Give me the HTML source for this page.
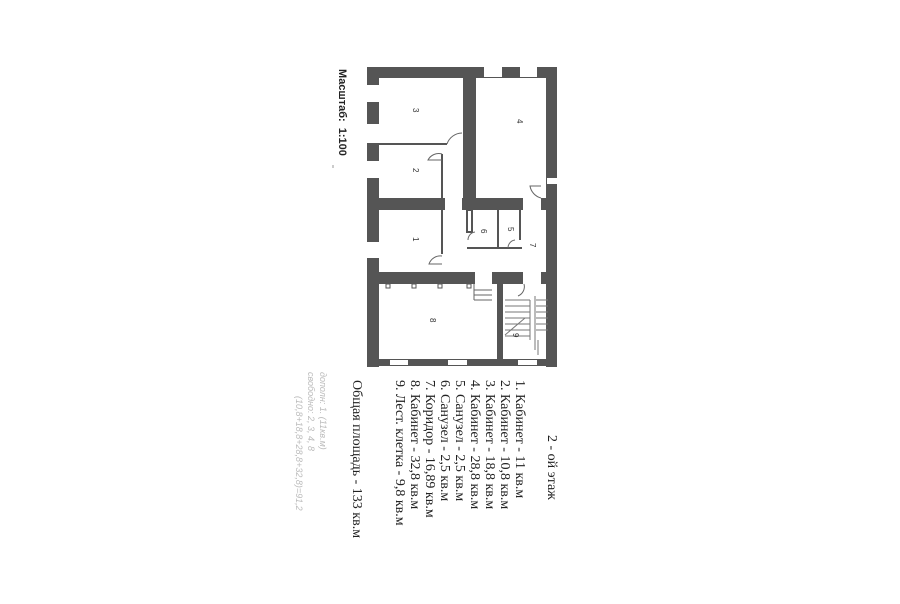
<!DOCTYPE html>
<html><head><meta charset="utf-8"><style>
html,body{margin:0;padding:0;background:#fff;width:900px;height:604px;overflow:hidden}
svg{display:block}
</style></head><body>
<svg width="900" height="604" viewBox="0 0 900 604" xmlns="http://www.w3.org/2000/svg">
<rect width="900" height="604" fill="#fff"/>
<g fill="#555">
<rect x="367" y="67" width="190" height="11"/>
<rect x="367" y="67" width="12" height="300"/>
<rect x="546" y="67" width="11" height="300"/>
<rect x="367" y="359" width="190" height="7"/>
<rect x="463" y="67" width="13" height="143"/>
<rect x="368" y="198" width="77" height="12"/>
<rect x="462" y="198" width="61" height="12"/>
<rect x="541" y="198" width="16" height="12"/>
<rect x="368" y="272" width="107" height="12"/>
<rect x="492" y="272" width="31" height="12"/>
<rect x="541" y="272" width="16" height="12"/>
<rect x="497" y="284" width="6" height="80"/>
</g>
<g fill="#fff">
<rect x="367" y="85" width="12" height="17"/>
<rect x="367" y="124" width="12" height="19"/>
<rect x="367" y="161" width="12" height="17"/>
<rect x="367" y="242" width="12" height="16"/>
<rect x="484" y="67" width="18" height="10"/>
<rect x="520" y="67" width="17" height="10"/>
<rect x="547" y="178" width="10" height="6"/>
<rect x="390" y="360" width="18" height="5"/>
<rect x="448" y="360" width="19" height="5"/>
<rect x="518" y="360" width="19" height="5"/>
<rect x="541" y="184" width="5" height="14"/>
</g>
<g stroke="#555" stroke-width="2" fill="none">
<line x1="379" y1="144" x2="447" y2="144"/>
<line x1="442" y1="154" x2="442" y2="198"/>
<line x1="442" y1="210" x2="442" y2="254"/>
<line x1="467" y1="248" x2="522" y2="248"/>
<line x1="498" y1="210" x2="498" y2="248"/>
<line x1="520" y1="210" x2="520" y2="240"/>
<rect x="467" y="210" width="5" height="22"/>
<line x1="376" y1="284" x2="376" y2="362"/>
</g>
<g stroke="#666" stroke-width="1" fill="none">
<path d="M447 144 A16 16 0 0 1 462 133"/>
<path d="M442 154 A12 12 0 0 0 428 160 L442 160"/>
<path d="M442 256 A12 12 0 0 0 429 264 L442 264"/>
<path d="M541 198 A15 15 0 0 1 530 186 L541 186"/>
<path d="M468 240 A8 8 0 0 1 475 232"/>
<path d="M508 248 A8 8 0 0 1 515 240"/>
<path d="M524 284 A10 10 0 0 1 518 296"/>
<line x1="474" y1="290" x2="492" y2="290"/><line x1="474" y1="295" x2="492" y2="295"/><line x1="474" y1="300" x2="492" y2="300"/>
<line x1="474" y1="284" x2="474" y2="300"/>
</g>
<g fill="#fff" stroke="#555"><rect x="386" y="284" width="4" height="4"/><rect x="412" y="284" width="4" height="4"/><rect x="438" y="284" width="4" height="4"/><rect x="467" y="284" width="4" height="4"/></g>
<g stroke="#777" stroke-width="1">
<line x1="505" y1="300" x2="530" y2="300"/><line x1="505" y1="306" x2="530" y2="306"/><line x1="505" y1="312" x2="530" y2="312"/><line x1="505" y1="318" x2="530" y2="318"/><line x1="505" y1="324" x2="530" y2="324"/><line x1="505" y1="330" x2="530" y2="330"/><line x1="505" y1="336" x2="530" y2="336"/>
<line x1="530" y1="300" x2="530" y2="340"/><line x1="535" y1="296" x2="535" y2="350"/>
<line x1="536" y1="300" x2="548" y2="300"/><line x1="536" y1="306" x2="548" y2="306"/><line x1="536" y1="312" x2="548" y2="312"/><line x1="536" y1="318" x2="548" y2="318"/><line x1="536" y1="324" x2="548" y2="324"/><line x1="536" y1="330" x2="548" y2="330"/>
<line x1="505" y1="335" x2="525" y2="318"/>
<line x1="538" y1="340" x2="538" y2="355"/>
</g>
<g font-family="Liberation Sans, sans-serif" font-size="8" fill="#333">
<text transform="translate(413,108) rotate(90)">3</text>
<text transform="translate(413,168) rotate(90)">2</text>
<text transform="translate(413,237) rotate(90)">1</text>
<text transform="translate(517,119) rotate(90)">4</text>
<text transform="translate(481,229) rotate(90)">6</text>
<text transform="translate(508,227) rotate(90)">5</text>
<text transform="translate(530,243) rotate(90)">7</text>
<text transform="translate(430,318) rotate(90)">8</text>
<text transform="translate(513,333) rotate(90)">9</text>
</g>
<text transform="translate(339,69) rotate(90)" font-family="Liberation Sans, sans-serif" font-weight="bold" font-size="11" fill="#222">Масштаб:&#160; 1:100</text>
<line x1="333" y1="165" x2="333" y2="168" stroke="#999"/>
<g font-family="Liberation Serif, serif" font-size="14" fill="#222">
<text transform="translate(548,435) rotate(90)">2 - ой этаж</text>
<text transform="translate(516,380) rotate(90)">1. Кабинет - 11 кв.м</text>
<text transform="translate(501,380) rotate(90)">2. Кабинет - 10,8 кв.м</text>
<text transform="translate(486,380) rotate(90)">3. Кабинет - 18,8 кв.м</text>
<text transform="translate(471,380) rotate(90)">4. Кабинет - 28,8 кв.м</text>
<text transform="translate(456,380) rotate(90)">5. Санузел - 2,5 кв.м</text>
<text transform="translate(441,380) rotate(90)">6. Санузел - 2,5 кв.м</text>
<text transform="translate(426,380) rotate(90)">7. Коридор - 16,89 кв.м</text>
<text transform="translate(411,380) rotate(90)">8. Кабинет - 32,8 кв.м</text>
<text transform="translate(396,380) rotate(90)">9. Лест. клетка - 9,8 кв.м</text>
<text transform="translate(353,380) rotate(90)">Общая площадь - 133 кв.м</text>
</g>
<g font-family="Liberation Sans, sans-serif" font-size="9" fill="#bbb" font-style="italic">
<text transform="translate(320,372) rotate(90)">дополн: 1. (11кв.м)</text>
<text transform="translate(308,372) rotate(90)">свободно: 2, 3, 4, 8</text>
<text transform="translate(296,396) rotate(90)">(10,8+18,8+28,8+32,8)=91,2</text>
</g>
</svg>
</body></html>
